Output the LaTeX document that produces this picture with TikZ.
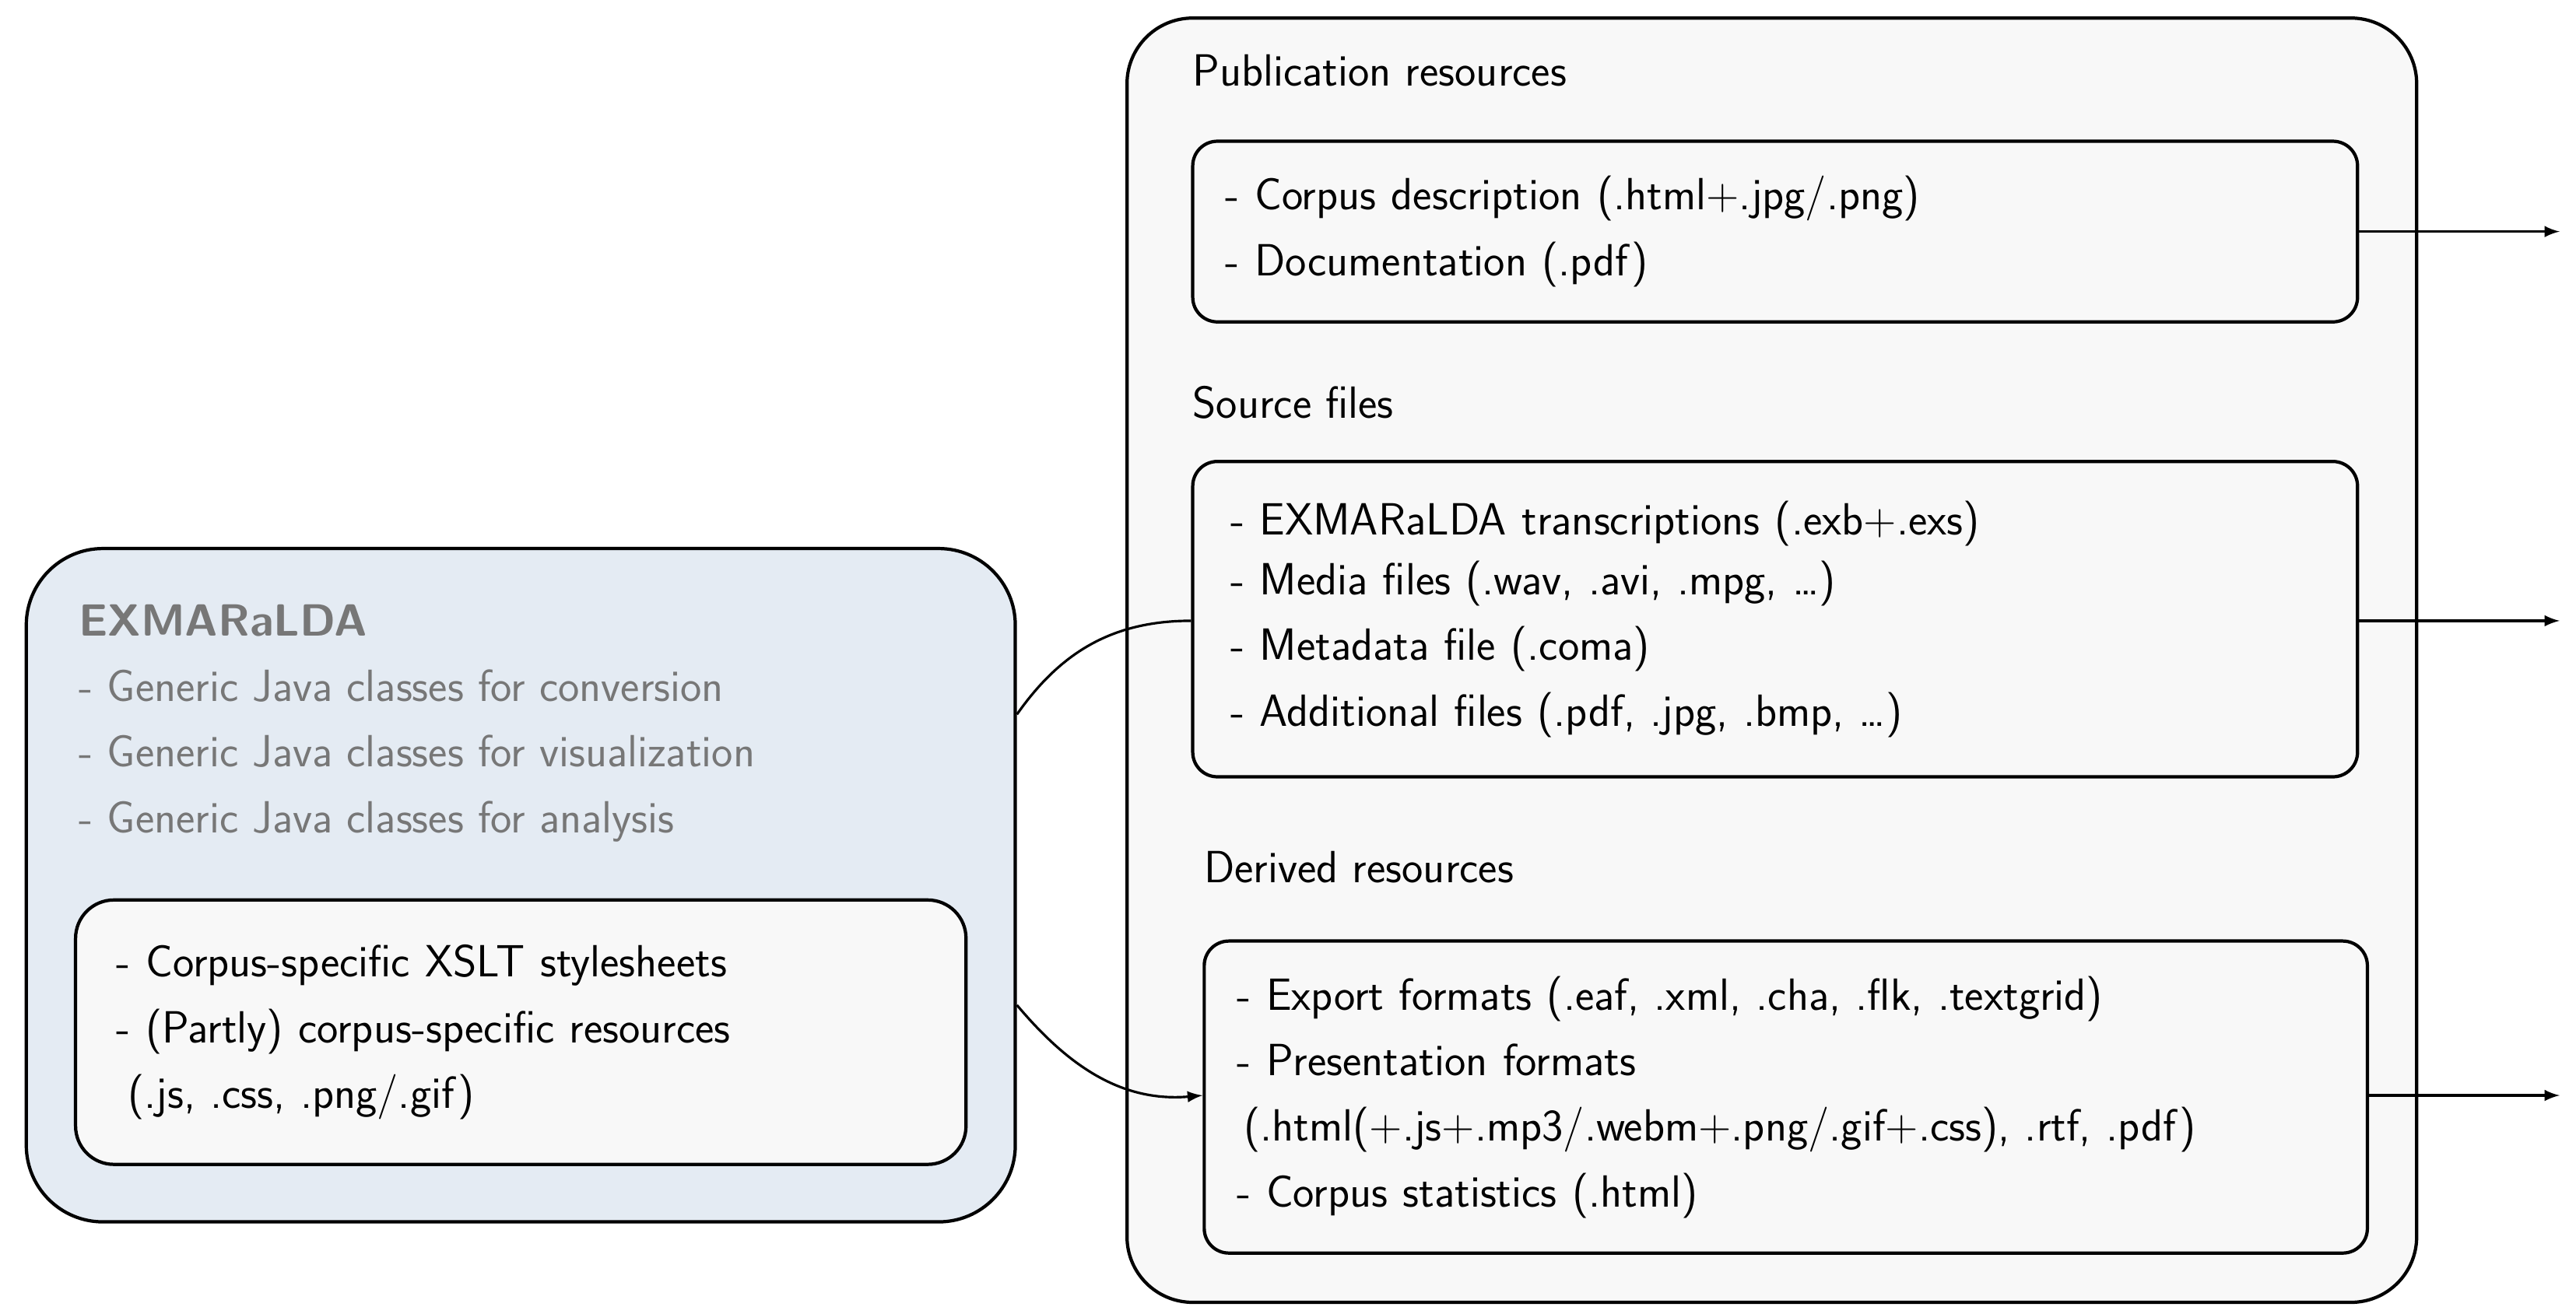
\documentclass[tikz,border=0pt]{standalone}
\usepackage{fontspec}
\setmainfont{Liberation Sans}
\usepackage{xcolor}
\usetikzlibrary{positioning,arrows}
\definecolor{exmblue}{HTML}{E4EBF3}
\definecolor{boxgray}{HTML}{F8F8F8}
\definecolor{txtgray}{HTML}{777777}
\tikzset{
	every picture/.style={/utils/exec={\sffamily}},
	every node/.style = {font=\fontsize{16.5}{24}\selectfont, inner sep = 0},
	box/.style = {draw, line width=1.2pt, rounded corners=9pt, fill=boxgray, align=left, anchor=north west},
	bx/.style 2 args = {minimum width=#1*0.0211cm, minimum height=#2*0.0211cm},
	title/.style = {anchor=west},
	>=latex
}

\begin{document}
\begin{tikzpicture}[x=0.0211cm, y=-0.0211cm, line width=1.2pt]
		\useasboundingbox (0,0) rectangle (1568,800);
		
		% left side
		\node[box, fill=exmblue, rounded corners=28pt, bx={602}{410}] (exm) at (15,333) {};
		\node[anchor=north west, text=txtgray, align=left] (exmtxt) at (47,367) {\textbf{EXMARaLDA}\\- Generic Java classes for conversion\\- Generic Java classes for visualization\\- Generic Java classes for analysis};
		\node[box, rounded corners=14pt, bx={542}{161}, text width=492*0.0211cm, inner xsep=25*0.0211cm] (xslt) at (45,547) {- Corpus-specific XSLT stylesheets\\- (Partly) corpus-specific resources\\\hspace*{0.25em}(.js, .css, .png/.gif)};
		
		% right side
		\node[box, rounded corners=24pt, bx={785}{782}] (res) at (685,10) {};
		\node[title] (pubt) at (725,43) {Publication resources};
		\node[box, bx={709}{110}, text width=669*0.0211cm, inner xsep=20*0.0211cm] (pub) at (725,85) {- Corpus description (.html+.jpg/.png)\\- Documentation (.pdf)};
		\node[title] (srct) at (725,245) {Source files};
		\node[box, bx={709}{192}, text width=663*0.0211cm, inner xsep=23*0.0211cm] (src) at (725,280) {- EXMARaLDA transcriptions (.exb+.exs)\\[-2pt]- Media files (.wav, .avi, .mpg, \dots)\\- Metadata file (.coma)\\- Additional files (.pdf, .jpg, .bmp, \dots)};
		\node[title] (dert) at (732,528) {Derived resources};
		\node[box, bx={708}{190}, text width=668*0.0211cm, inner xsep=20*0.0211cm] (der) at (732,572) {- Export formats (.eaf, .xml, .cha, .flk, .textgrid)\\- Presentation formats\\\hspace*{0.15em}(.html(+.js+.mp3/.webm+.png/.gif+.css), .rtf, .pdf)\\- Corpus statistics (.html)};
		
		% outputs
		\coordinate (o1) at (1558,141);
		\coordinate (o2) at (1558,378);
		\coordinate (o3) at (1558,667);
		\draw[->, line width=0.9pt] (pub.east |- o1) -- (o1);
		\draw[->, line width=0.9pt] (src.east |- o2) -- (o2);
		\draw[->, line width=0.9pt] (der.east |- o3) -- (o3);
		
		% connections
		\draw[line width=0.9pt] ([yshift=-102*0.0211cm]exm.north east) to[out=55, in=180] ([yshift=-98*0.0211cm]src.north west);
		\draw[->, line width=0.9pt] ([yshift=-279*0.0211cm]exm.north east) to[out=-50, in=185] ([yshift=-95*0.0211cm]der.north west);
\end{tikzpicture}
\end{document}
